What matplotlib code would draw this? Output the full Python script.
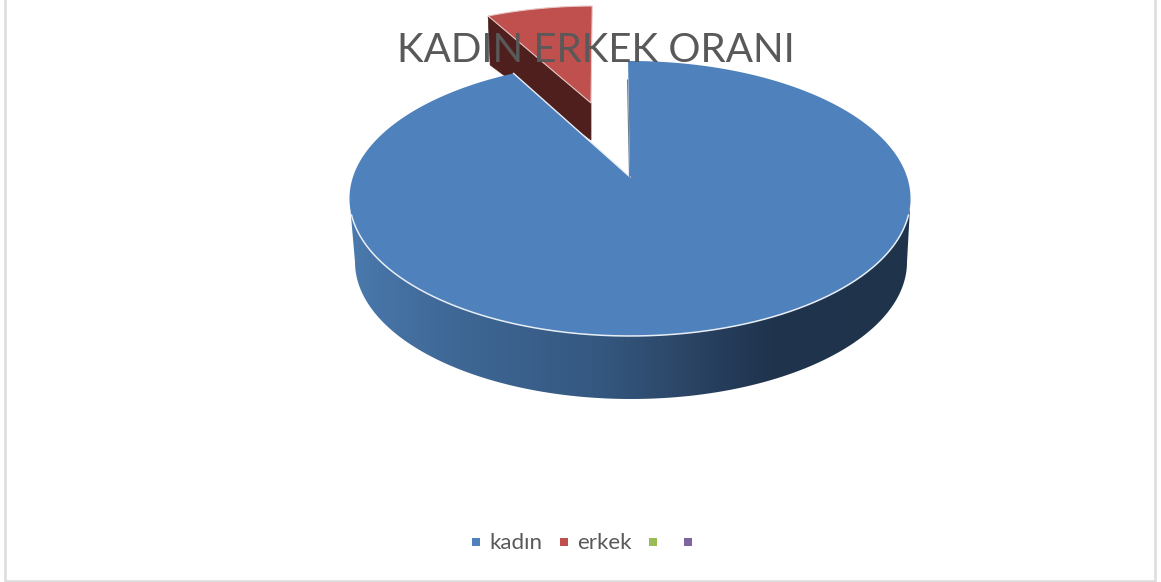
import numpy as np
import matplotlib
matplotlib.use("Agg")
import matplotlib.pyplot as plt
from matplotlib.colors import LinearSegmentedColormap
from matplotlib.patches import Polygon, Rectangle

title = "KADIN ERKEK ORANI"
labels = ["kadın", "erkek", "", ""]
values = [93.3, 6.7]
colors = ["#4f81bd", "#c0504d", "#9bbb59", "#8064a2"]
legend_x = [476, 564, 653, 688]

W, H = 1161, 582
start = -0.4  # pie rotation in degrees, clockwise from the top


def arc(cx, cy, rx, ry, a0, a1, n=400):
    t = np.radians(np.linspace(a0, a1, n))
    return np.column_stack([cx + rx * np.sin(t), cy - ry * np.cos(t)])


angles = np.cumsum([0] + values) / sum(values) * 360 + start
blue_a0, blue_a1 = angles[0], angles[1]
red_a0, red_a1 = angles[1], angles[2]

fig = plt.figure(figsize=(W / 100, H / 100), dpi=100)
ax = fig.add_axes([0, 0, 1, 1])
ax.set_xlim(0, W)
ax.set_ylim(H, 0)
ax.axis("off")

# chart frame, the top edge runs off the canvas
ax.add_patch(Rectangle((5, -5), 1150, 586, fc="white", ec="#dcdcdc", lw=1.8))

# side wall of the big slice, horizontal gradient clipped to the outline
top_edge = arc(630, 198.5, 280.5, 137.5, 90, 270)
bot_edge = arc(631, 262, 276, 137, 90, 270)
wall = Polygon(np.vstack([top_edge, bot_edge[::-1]]), fc="none", ec="none")
ax.add_patch(wall)
cmap = LinearSegmentedColormap.from_list("wall", [
    (0.0, "#4a79ad"), (0.15, "#406a99"), (0.45, "#34577f"),
    (0.60, "#2c4565"), (0.68, "#243b59"), (0.75, "#1f344d"), (1.0, "#1f334b")])
grad = ax.imshow(np.linspace(0, 1, 600).reshape(1, -1), cmap=cmap, vmin=0, vmax=1,
                 extent=(350, 911, 410, 190), aspect="auto", zorder=1)
grad.set_clip_path(wall)
ax.set_xlim(0, W)
ax.set_ylim(H, 0)

# pulled-out slice
rapex = np.array([591.0, 103.0])
red_arc = arc(594, 117, 255, 111, red_a0, red_a1)
wall_pts = [red_arc[0], rapex, rapex + [0, 37], red_arc[0] + [2, 49]]
ax.add_patch(Polygon(wall_pts, fc="#4f1f1d", ec="#4f1f1d", lw=0.5, zorder=2))
ax.add_patch(Polygon(np.vstack([[rapex], red_arc]), fc=colors[1], ec="#e6c8c7", lw=0.8, zorder=3))

# top face of the big slice, light rim only along the front
blue_arc = arc(630, 198.5, 280.5, 137.5, blue_a0, blue_a1)
apex = [630, 177]
ax.add_patch(Polygon(np.vstack([[apex], blue_arc]), fc=colors[0], ec="none", zorder=4))
rim = arc(630, 198.5, 280.5, 137.5, 97, 263)
ax.plot(*rim.T, color="#e8eef5", lw=1.1, zorder=5)
ax.plot([apex[0], blue_arc[-1][0]], [apex[1], blue_arc[-1][1]], color="#e8eef5", lw=1.0, zorder=5)
ax.plot([apex[0] - 0.5, 627.5], [apex[1], 80], color="#6b7c92", lw=0.8, zorder=5)

ax.text(595.5, 62, title, fontsize=29, color="#595959", family="Lato",
        ha="center", va="baseline", zorder=6)

# legend
for x, label, color in zip(legend_x, labels, colors):
    ax.add_patch(Rectangle((x - 4, 538), 8, 8, fc=color, ec="none"))
    if label:
        ax.text(x + 13, 549, label, fontsize=16, color="#595959", family="Lato",
                ha="left", va="baseline")

fig.savefig("out.png", dpi=100)
